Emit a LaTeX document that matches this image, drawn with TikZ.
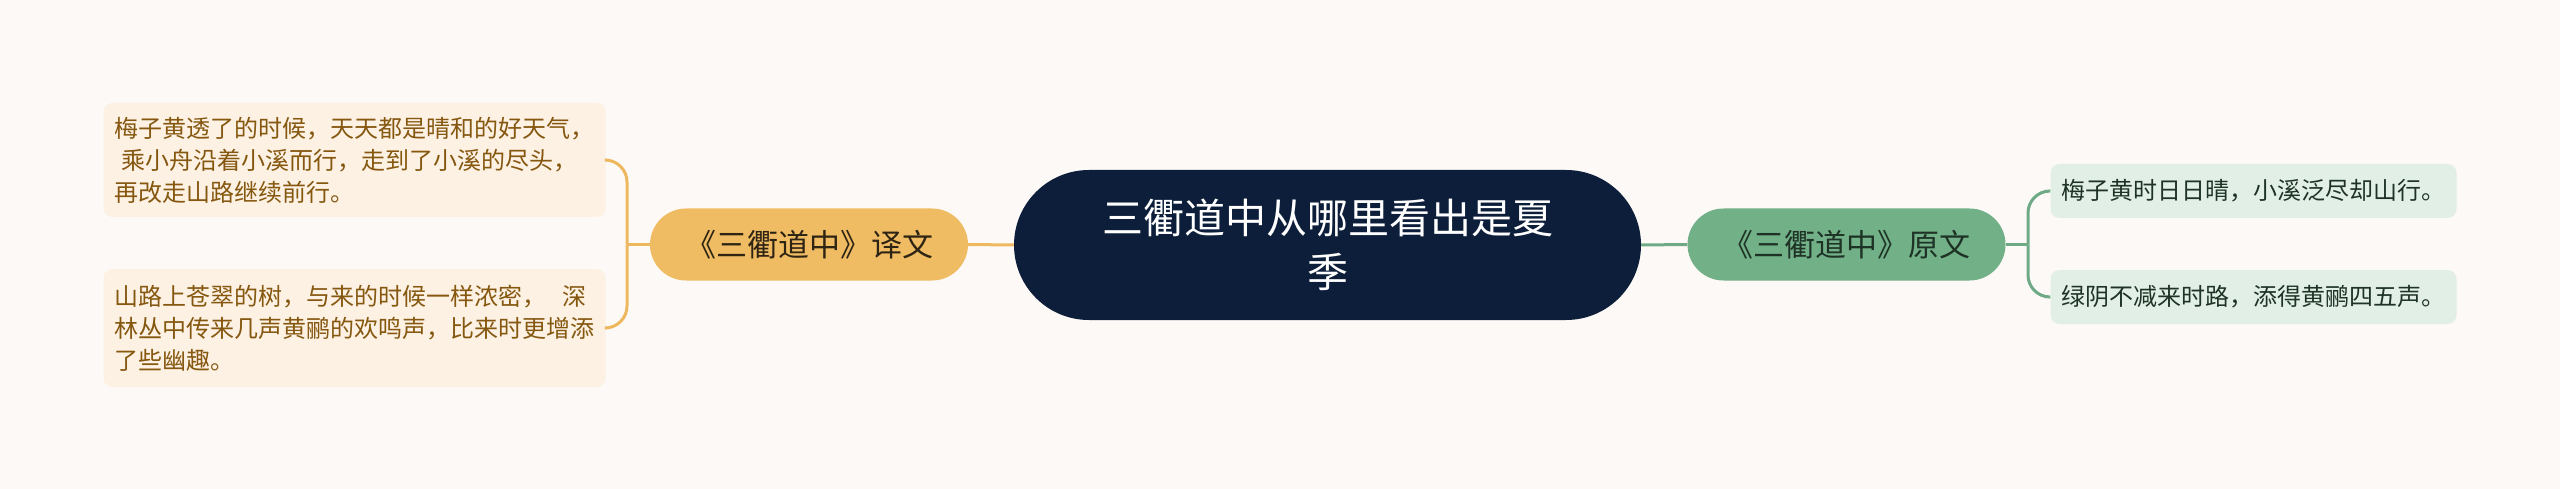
\documentclass[tikz,border=0pt]{standalone}
\usepackage{fontspec}
\setmainfont{Noto Sans CJK SC}
\definecolor{bg}{HTML}{FDF9F7}
\definecolor{navy}{HTML}{0C1E3A}
\definecolor{orn}{HTML}{F0BC63}
\definecolor{ornline}{HTML}{EDB85E}
\definecolor{ornleaf}{HTML}{FCF1E3}
\definecolor{orntext}{HTML}{85570F}
\definecolor{orndark}{HTML}{2E2414}
\definecolor{grn}{HTML}{72B088}
\definecolor{grnline}{HTML}{6FAA86}
\definecolor{grnleaf}{HTML}{E2EFE7}
\definecolor{grntext}{HTML}{1E3325}
\begin{document}
\begin{tikzpicture}[x=1pt,y=-1pt,
  centerbox/.style={fill=navy, rounded corners=75pt, minimum width=627pt, minimum height=150pt, text=white, align=center, inner sep=0pt, font=\fontsize{41}{54}\selectfont},
  branchbox/.style={rounded corners=36pt, minimum width=318pt, minimum height=72pt, inner sep=0pt, font=\fontsize{31}{36}\selectfont},
  leafbox/.style={rounded corners=9pt, inner sep=0pt, font=\fontsize{24}{32}\selectfont},
  oline/.style={draw=ornline, line width=3pt},
  gline/.style={draw=grnline, line width=3pt}]
\fill[bg] (0,0) rectangle (2560,489);
\useasboundingbox (0,0) rectangle (2560,489);

\node[centerbox] (c) at (1327.5,245) {三衢道中从哪里看出是夏\\季};

\node[branchbox, fill=orn, text=orndark] (lb) at (809,244.5) {《三衢道中》译文};
\node[branchbox, fill=grn, text=grntext] (rb) at (1846.5,244.5) {《三衢道中》原文};

\node[leafbox, fill=ornleaf, text=orntext, minimum width=502pt, minimum height=114pt, text width=480pt, align=left] (l1) at (354.5,160)
  {梅子黄透了的时候，天天都是晴和的好天气，\\\hspace*{0.3em}乘小舟沿着小溪而行，走到了小溪的尽头，\\再改走山路继续前行。};
\node[leafbox, fill=ornleaf, text=orntext, minimum width=502pt, minimum height=118pt, text width=480pt, align=left] (l2) at (354.5,328)
  {山路上苍翠的树，与来的时候一样浓密，\ \ 深\\林丛中传来几声黄鹂的欢鸣声，比来时更增添\\了些幽趣。};

\node[leafbox, fill=grnleaf, text=grntext, minimum width=406pt, minimum height=54pt] (r1) at (2253.5,191) {梅子黄时日日晴，小溪泛尽却山行。};
\node[leafbox, fill=grnleaf, text=grntext, minimum width=406pt, minimum height=54pt] (r2) at (2253.5,297) {绿阴不减来时路，添得黄鹂四五声。};

\coordinate (lj) at (627,244.5);
\coordinate (rj) at (2028,244.5);

\draw[oline] (c.west) -- (lb.east);
\draw[oline] (lb.west) -- (lj);
\draw[oline, rounded corners=22pt] (lj) |- (l1.east);
\draw[oline, rounded corners=22pt] (lj) |- (l2.east);

\draw[gline] (c.east) -- (rb.west);
\draw[gline] (rb.east) -- (rj);
\draw[gline, rounded corners=22pt] (rj) |- (r1.west);
\draw[gline, rounded corners=22pt] (rj) |- (r2.west);
\end{tikzpicture}
\end{document}
